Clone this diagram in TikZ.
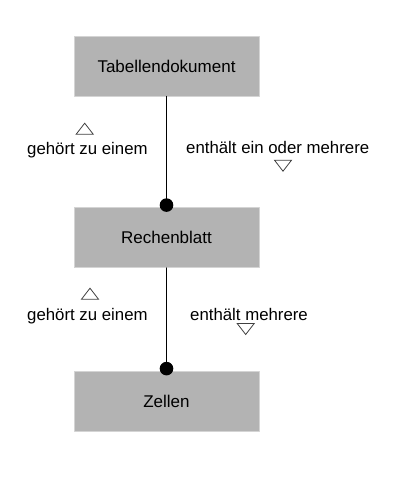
\documentclass[tikz,border=0pt]{standalone}
\usepackage{fontspec}
\setmainfont{Liberation Sans}
\usetikzlibrary{positioning}
\definecolor{boxgray}{HTML}{B3B3B3}
\definecolor{boxline}{HTML}{D4D4D4}
\definecolor{trigray}{HTML}{404040}
\begin{document}
\begin{tikzpicture}[line cap=round,line join=round,x=1bp,y=-1bp,
  box/.style={draw=boxline,fill=boxgray,line width=0.8bp,minimum width=185bp,minimum height=60bp,inner sep=0pt,font=\fontsize{17bp}{20bp}\selectfont},
  lbl/.style={inner sep=0pt,anchor=west,font=\fontsize{16.8bp}{20bp}\selectfont},
  tri/.style={draw=trigray,line width=0.8bp,line cap=butt,line join=miter}]
\useasboundingbox (0,0) rectangle (412,503);
\node[box] (doc) at (166.5,66) {Tabellendokument};
\node[box] (blatt) at (166.5,237.5) {Rechenblatt};
\node[box] (zellen) at (166.5,401) {Zellen};
\draw[line width=1bp] (doc.south) -- (blatt.north);
\draw[line width=1bp] (blatt.south) -- (zellen.north);
\fill ([yshift=2bp]blatt.north) circle (6.8bp);
\fill ([yshift=2bp]zellen.north) circle (6.8bp);
% labels
\node[lbl] (gehoert1) at (27,150) {gehört zu einem};
\node[lbl] (enthaelt1) at (186,147.5) {enthält ein oder mehrere};
\node[lbl] (gehoert2) at (27,316) {gehört zu einem};
\node[lbl] (enthaelt2) at (190,314.5) {enthält mehrere};
% triangles
\draw[tri] (76.2,134.2) -- ++(17,0) -- ++(-8.5,-11) -- cycle;
\draw[tri] (274.5,160.2) -- ++(17,0) -- ++(-8.5,11) -- cycle;
\draw[tri] (81.5,299.2) -- ++(17,0) -- ++(-8.5,-11) -- cycle;
\draw[tri] (237.2,323.5) -- ++(17,0) -- ++(-8.5,11) -- cycle;
\end{tikzpicture}
\end{document}
